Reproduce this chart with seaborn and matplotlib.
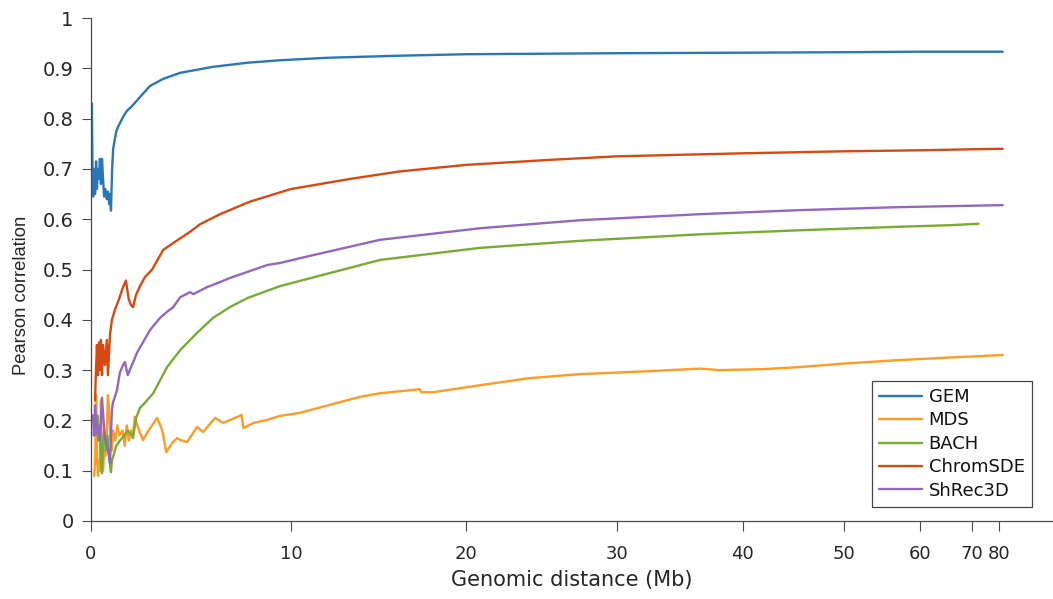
import numpy as np
import pandas as pd
import matplotlib
matplotlib.use("Agg")
import matplotlib.pyplot as plt
import seaborn as sns

# ---------------- data (genomic distance in Mb, Pearson correlation) ----------------
methods = ["GEM", "MDS", "BACH", "ChromSDE", "ShRec3D"]
colors = ["#2a77b7", "#ff9a22", "#77ac30", "#d9480f", "#9467bd"]

gem_x = [0.0, 0.02, 0.04, 0.07, 0.10, 0.14, 0.19, 0.24, 0.28, 0.33, 0.38, 0.42, 0.47, 0.52,
         0.57, 0.62, 0.68, 0.75, 0.80, 0.86, 0.90, 0.945, 1.0, 1.05, 1.135, 1.2, 1.3, 1.52,
         1.7, 1.856, 2.0, 2.34, 2.83, 3.47, 4.31, 5.96, 7.7, 9.42, 12, 16, 20, 25, 30, 40,
         50, 60, 70, 84]
gem_r = [0.66, 0.70, 0.83, 0.70, 0.645, 0.70, 0.65, 0.715, 0.66, 0.70, 0.68, 0.72, 0.67, 0.72,
         0.68, 0.645, 0.66, 0.64, 0.655, 0.63, 0.65, 0.617, 0.70, 0.74, 0.76, 0.775, 0.785, 0.803,
         0.815, 0.821, 0.827, 0.843, 0.865, 0.879, 0.891, 0.903, 0.911, 0.916, 0.921, 0.925,
         0.928, 0.929, 0.930, 0.931, 0.932, 0.933, 0.933, 0.933]

mds_x = [0.15, 0.2, 0.24, 0.28, 0.33, 0.38, 0.43, 0.47, 0.52, 0.57, 0.62, 0.68, 0.75, 0.8,
         0.86, 0.92, 0.99, 1.05, 1.15, 1.25, 1.35, 1.5, 1.6, 1.7, 1.8, 1.9, 2.0, 2.09, 2.23,
         2.48, 2.68, 3.17, 3.42, 3.62, 3.91, 4.16, 4.31, 4.65, 5.15, 5.45, 6.06, 6.47, 7.2,
         7.41, 7.5, 8.03, 8.75, 9.42, 10.48, 12.1, 13.8, 14.9, 17.2, 17.3, 18, 20.85, 24,
         27.4, 32.5, 36.4, 38, 42, 45.3, 50, 57, 65, 84]
mds_r = [0.09, 0.12, 0.25, 0.14, 0.09, 0.12, 0.10, 0.24, 0.12, 0.10, 0.14, 0.13, 0.18, 0.25,
         0.22, 0.16, 0.14, 0.18, 0.16, 0.19, 0.17, 0.18, 0.15, 0.19, 0.16, 0.18, 0.17, 0.207,
         0.187, 0.161, 0.175, 0.205, 0.181, 0.137, 0.155, 0.165, 0.161, 0.157, 0.187, 0.177,
         0.205, 0.195, 0.207, 0.211, 0.185, 0.195, 0.201, 0.209, 0.215, 0.231, 0.247, 0.254,
         0.262, 0.256, 0.256, 0.270, 0.284, 0.292, 0.298, 0.303, 0.300, 0.302, 0.306, 0.313,
         0.320, 0.325, 0.330]

bach_x = [0.2, 0.25, 0.3, 0.35, 0.4, 0.47, 0.52, 0.57, 0.62, 0.7, 0.78, 0.85, 0.945, 0.99,
          1.1, 1.2, 1.37, 1.52, 1.75, 1.95, 2.0, 2.15, 2.34, 2.58, 2.68, 2.98, 3.32, 3.66,
          4.31, 5.15, 5.96, 6.8, 7.7, 8.55, 9.42, 14.9, 20.85, 27.4, 36.4, 45.3, 57, 65, 71.8]
bach_r = [0.20, 0.17, 0.21, 0.16, 0.19, 0.12, 0.095, 0.16, 0.18, 0.14, 0.17, 0.13, 0.097, 0.12,
          0.135, 0.15, 0.16, 0.167, 0.18, 0.17, 0.165, 0.205, 0.225, 0.235, 0.24, 0.254, 0.28,
          0.306, 0.34, 0.374, 0.404, 0.425, 0.443, 0.455, 0.467, 0.519, 0.543, 0.557, 0.570,
          0.578, 0.585, 0.588, 0.591]

chrom_x = [0.19, 0.235, 0.28, 0.33, 0.38, 0.42, 0.47, 0.52, 0.57, 0.66, 0.75, 0.8, 0.9, 0.99,
           1.135, 1.32, 1.52, 1.66, 1.8, 1.9, 2.0, 2.15, 2.34, 2.58, 2.93, 3.47, 4.05, 4.8, 5.3,
           6.31, 7.85, 10, 13.2, 16.04, 20, 25.35, 30, 40, 50, 60, 70, 84]
chrom_r = [0.24, 0.30, 0.35, 0.29, 0.355, 0.30, 0.36, 0.29, 0.35, 0.31, 0.36, 0.29, 0.37, 0.40,
           0.42, 0.44, 0.465, 0.478, 0.44, 0.43, 0.425, 0.45, 0.467, 0.485, 0.50, 0.539, 0.555,
           0.575, 0.59, 0.61, 0.635, 0.66, 0.68, 0.695, 0.708, 0.718, 0.725, 0.731, 0.735,
           0.737, 0.739, 0.740]

shrec_x = [0.094, 0.14, 0.19, 0.235, 0.28, 0.33, 0.42, 0.52, 0.61, 0.66, 0.75, 0.8, 0.85, 0.9,
           0.945, 0.99, 1.04, 1.23, 1.37, 1.52, 1.61, 1.75, 1.95, 2.2, 2.48, 2.83, 3.32, 3.66,
           3.96, 4.31, 4.8, 4.96, 5.65, 6.31, 6.8, 7.7, 8.75, 9.42, 11.0, 14.9, 20.85, 27.4,
           36.4, 45.3, 57, 84]
shrec_r = [0.21, 0.17, 0.23, 0.20, 0.175, 0.19, 0.16, 0.245, 0.19, 0.167, 0.15, 0.14, 0.13,
           0.115, 0.17, 0.22, 0.235, 0.26, 0.295, 0.31, 0.316, 0.29, 0.31, 0.335, 0.355, 0.38,
           0.404, 0.416, 0.425, 0.445, 0.455, 0.451, 0.465, 0.475, 0.483, 0.495, 0.509, 0.513,
           0.527, 0.559, 0.582, 0.598, 0.610, 0.618, 0.624, 0.628]

xtick_values = [0, 10, 20, 30, 40, 50, 60, 70, 80]
ytick_values = [0, 0.1, 0.2, 0.3, 0.4, 0.5, 0.6, 0.7, 0.8, 0.9, 1.0]
ytick_labels = ["0", "0.1", "0.2", "0.3", "0.4", "0.5", "0.6", "0.7", "0.8", "0.9", "1"]

# non-linear (compressing) distance axis of the original figure
WARP_A, WARP_B = 21.236, 0.1236


def warp(x):
    x = np.asarray(x, dtype=float)
    return WARP_A * x - WARP_B * x ** 2


series = {
    "GEM": (gem_x, gem_r),
    "MDS": (mds_x, mds_r),
    "BACH": (bach_x, bach_r),
    "ChromSDE": (chrom_x, chrom_r),
    "ShRec3D": (shrec_x, shrec_r),
}
frames = []
for name in methods:
    xs, rs = series[name]
    frames.append(pd.DataFrame({"u": warp(xs), "r": rs, "method": name}))
df = pd.concat(frames, ignore_index=True)

# ---------------- plot ----------------
sns.set_theme(style="ticks")
plt.rcParams["font.family"] = ["DejaVu Sans"]

W, H = 1053, 599
fig = plt.figure(figsize=(W / 100, H / 100), dpi=100)
ax = fig.add_axes([91 / W, 78 / H, 961 / W, 503 / H])

sns.lineplot(data=df, x="u", y="r", hue="method", hue_order=methods, palette=colors,
             estimator=None, sort=False, linewidth=1.7, ax=ax)

ax.set_xlim(0, 961)
ax.set_ylim(0, 1)
ax.set_xticks(warp(xtick_values))
ax.set_xticklabels([str(v) for v in xtick_values])
ax.set_yticks(ytick_values)
ax.set_yticklabels(ytick_labels)

sns.despine(ax=ax)
for s in ["left", "bottom"]:
    ax.spines[s].set_color("#4a4a4a")
    ax.spines[s].set_linewidth(0.9)

ax.tick_params(axis="y", direction="out", length=6.5, width=0.8, color="#4a4a4a",
               pad=6, labelsize=14, labelcolor="#262626")
ax.tick_params(axis="x", direction="out", length=7, width=0.8, color="#4a4a4a",
               pad=10, labelsize=13, labelcolor="#262626")

ax.set_xlabel("Genomic distance (Mb)", fontsize=15, color="#262626", labelpad=5)
ax.set_ylabel("Pearson correlation", fontsize=13.2, color="#262626",
              family=["Liberation Sans", "DejaVu Sans"])
ax.yaxis.set_label_coords(-0.063, 0.449)

leg = ax.legend(loc="lower right", bbox_to_anchor=(0.979, 0.028), borderaxespad=0,
                frameon=True, fancybox=False, framealpha=1, edgecolor="#444444",
                borderpad=0.4, labelspacing=0.3, handlelength=2.4, handletextpad=0.35,
                prop={"family": "DejaVu Sans", "size": 13})
leg.get_frame().set_linewidth(0.9)
for t in leg.get_texts():
    t.set_color("#111111")

fig.savefig("out.png", dpi=100)
